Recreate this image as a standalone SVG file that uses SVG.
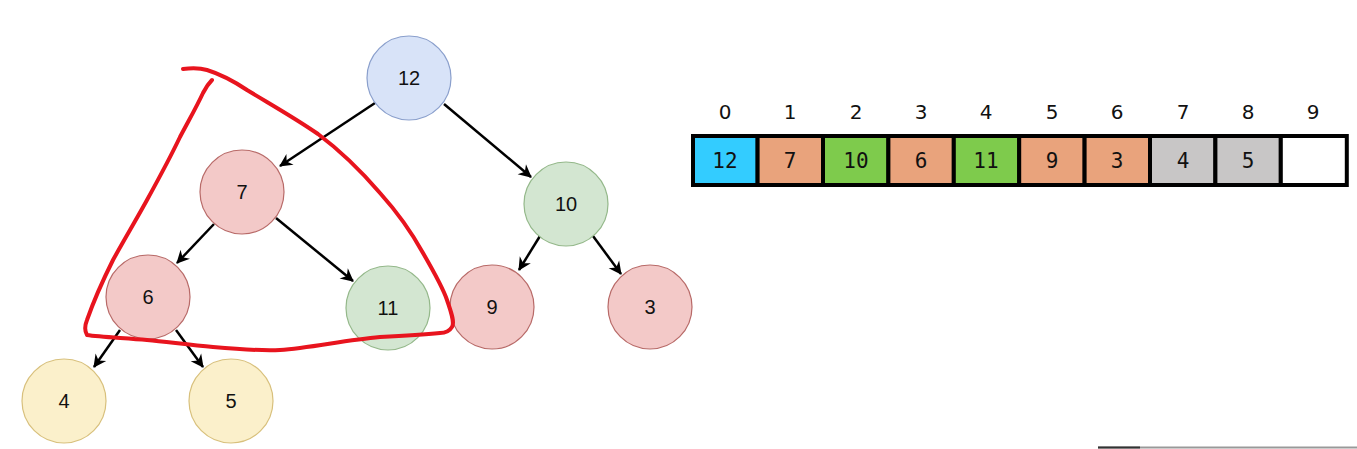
<svg xmlns="http://www.w3.org/2000/svg" width="1357" height="449" viewBox="0 0 1357 449">
<style>
.n{stroke-width:1.2}
.t{font-family:"Liberation Sans",Arial,sans-serif;font-size:20px;text-anchor:middle;dominant-baseline:central;fill:#111}
.blue{fill:#d8e3f8;stroke:#8a9fcc}
.red{fill:#f3c9c8;stroke:#b86a68}
.green{fill:#d3e6d1;stroke:#94b88a}
.yellow{fill:#fbf0cb;stroke:#d8c07c}
.e{stroke:#000;stroke-width:2.5;fill:none;marker-end:url(#ah)}
.cell{stroke:#000;stroke-width:4}
.ct{font-family:"DejaVu Sans Mono","Liberation Mono",monospace;font-size:21px;text-anchor:middle;dominant-baseline:central;fill:#111}
.it{font-family:"DejaVu Sans","Liberation Sans",sans-serif;font-size:20px;text-anchor:middle;dominant-baseline:central;fill:#111}
</style>
<defs>
<marker id="ah" markerWidth="16" markerHeight="16" refX="13" refY="8" orient="auto" markerUnits="userSpaceOnUse">
<path d="M1,1.5 L14,8 L1,14.5 L5,8 Z" fill="#000"/>
</marker>
</defs>
<rect width="1357" height="449" fill="#fff"/>
<g id="connectors">
<line class="e" x1="375" y1="103" x2="280" y2="166"/>
<line class="e" x1="444" y1="104" x2="531" y2="177"/>
<line class="e" x1="214" y1="224" x2="177" y2="263"/>
<line class="e" x1="276" y1="218" x2="353" y2="281"/>
<line class="e" x1="540" y1="236" x2="519" y2="270"/>
<line class="e" x1="593" y1="236" x2="621" y2="274"/>
<line class="e" x1="120" y1="330" x2="94" y2="367"/>
<line class="e" x1="176" y1="330" x2="203" y2="367"/>
</g>
<g id="n12"><circle class="n blue" cx="409" cy="78" r="42"/><text class="t" x="409" y="78">12</text></g>
<g id="n7"><circle class="n red" cx="242" cy="192" r="42"/><text class="t" x="242" y="192">7</text></g>
<g id="n10"><circle class="n green" cx="566" cy="204" r="42"/><text class="t" x="566" y="204">10</text></g>
<g id="n6"><circle class="n red" cx="148" cy="297" r="42"/><text class="t" x="148" y="297">6</text></g>
<g id="n11"><circle class="n green" cx="388" cy="308" r="42"/><text class="t" x="388" y="308">11</text></g>
<g id="n9"><circle class="n red" cx="492" cy="307" r="42"/><text class="t" x="492" y="307">9</text></g>
<g id="n3"><circle class="n red" cx="650" cy="307" r="42"/><text class="t" x="650" y="307">3</text></g>
<g id="n4"><circle class="n yellow" cx="64" cy="401" r="42"/><text class="t" x="64" y="401">4</text></g>
<g id="n5"><circle class="n yellow" cx="231" cy="401" r="42"/><text class="t" x="231" y="401">5</text></g>
<g id="array">
<rect class="cell" x="693" y="136" width="64.6" height="49" fill="#33ccff"/>
<rect class="cell" x="757.6" y="136" width="65.4" height="49" fill="#e9a37c"/>
<rect class="cell" x="823" y="136" width="65.4" height="49" fill="#7ecb4c"/>
<rect class="cell" x="888.4" y="136" width="65.4" height="49" fill="#e9a37c"/>
<rect class="cell" x="953.8" y="136" width="65.4" height="49" fill="#7ecb4c"/>
<rect class="cell" x="1019.2" y="136" width="65.4" height="49" fill="#e9a37c"/>
<rect class="cell" x="1084.6" y="136" width="65.4" height="49" fill="#e9a37c"/>
<rect class="cell" x="1150" y="136" width="65.4" height="49" fill="#c8c6c6"/>
<rect class="cell" x="1215.4" y="136" width="65.4" height="49" fill="#c8c6c6"/>
<rect class="cell" x="1280.8" y="136" width="66" height="49" fill="#ffffff"/>
<text class="ct" x="725" y="161">12</text>
<text class="ct" x="790" y="161">7</text>
<text class="ct" x="856" y="161">10</text>
<text class="ct" x="921" y="161">6</text>
<text class="ct" x="986" y="161">11</text>
<text class="ct" x="1052" y="161">9</text>
<text class="ct" x="1117" y="161">3</text>
<text class="ct" x="1183" y="161">4</text>
<text class="ct" x="1248" y="161">5</text>
<text class="it" x="725" y="112">0</text>
<text class="it" x="790" y="112">1</text>
<text class="it" x="856" y="112">2</text>
<text class="it" x="921" y="112">3</text>
<text class="it" x="986" y="112">4</text>
<text class="it" x="1052" y="112">5</text>
<text class="it" x="1117" y="112">6</text>
<text class="it" x="1183" y="112">7</text>
<text class="it" x="1248" y="112">8</text>
<text class="it" x="1313" y="112">9</text>
</g>
<path d="M183,69 C192,68 200,68 207,70 C220,74 235,82 247,90 C270,104 295,118 318,134 C342,152 362,172 380,193 C398,213 412,233 423,253 C434,272 443,288 447,300 C451,312 455,322 452,327 C449,332 445,333 440,333 C420,335 400,336 380,337 C345,340 310,348 280,350 C258,351 235,349 213,347 C190,345 168,342 147,340 C125,338 100,337 87,335 C84,330 85,325 87,320 C94,300 103,280 113,260 C124,240 136,220 147,200 C158,180 170,158 180,137 C189,120 197,106 203,93 C206,87 209,83 212,80" fill="none" stroke="#e8141e" stroke-width="4" stroke-linecap="round" stroke-linejoin="round"/>
<line x1="1098" y1="447.5" x2="1357" y2="447.5" stroke="#999" stroke-width="2"/>
<line x1="1098" y1="447.5" x2="1140" y2="447.5" stroke="#333" stroke-width="2"/>
</svg>
